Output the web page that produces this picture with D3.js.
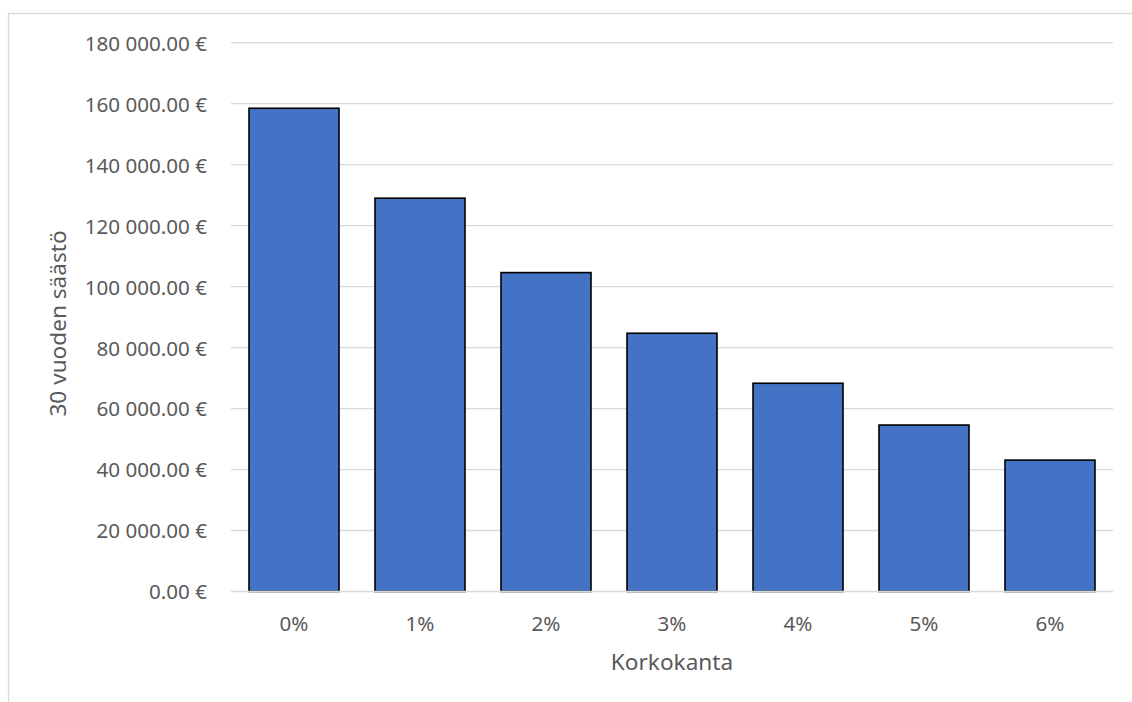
<!DOCTYPE html>
<html>
<head>
<meta charset="utf-8">
<script src="https://cdn.jsdelivr.net/npm/d3@7"></script>
<style>
  html, body { margin: 0; padding: 0; background: #ffffff; }
  svg { display: block; }
  text { font-family: "Noto Sans", "Open Sans", sans-serif; fill: #595959; }
</style>
</head>
<body>
<svg id="chart" width="1132" height="702"></svg>
<script>
// Interest rates and the 30-year savings at each rate
const rates = ["0%", "1%", "2%", "3%", "4%", "5%", "6%"];
const savings = [158500, 129000, 104600, 84700, 68300, 54600, 43100];
const yTicks = [0, 20000, 40000, 60000, 80000, 100000, 120000, 140000, 160000, 180000];
const yMax = 180000;
const xTitle = "Korkokanta";
const yTitle = "30 vuoden säästö";

const svg = d3.select("#chart");
const plot = { left: 231, right: 1113, top: 42.7, bottom: 591.5 };

// Euro formatting with space as thousands separator
const euro = d3.formatLocale({
  decimal: ".", thousands: " ", grouping: [3], currency: ["", " €"]
}).format("$,.2f");

const x = d3.scaleBand()
  .domain(rates)
  .range([plot.left, plot.right])
  .paddingInner(0.4 / 1.4)
  .paddingOuter(0.2 / 1.4);

const y = d3.scaleLinear()
  .domain([0, yMax])
  .range([plot.bottom, plot.top]);

// Chart area frame
svg.append("rect")
  .attr("x", 8.5).attr("y", 13.5)
  .attr("width", 1200).attr("height", 800)
  .attr("fill", "none")
  .attr("stroke", "#d9d9d9")
  .attr("stroke-width", 1.3);

// Horizontal gridlines
svg.append("g")
  .selectAll("line")
  .data(yTicks.filter(d => d > 0))
  .join("line")
  .attr("x1", plot.left).attr("x2", plot.right)
  .attr("y1", d => y(d)).attr("y2", d => y(d))
  .attr("stroke", "#d9d9d9")
  .attr("stroke-width", 1.3);

// Bars
svg.append("g")
  .selectAll("rect")
  .data(rates.map((r, i) => ({ r, v: savings[i] })))
  .join("rect")
  .attr("x", d => x(d.r))
  .attr("y", d => y(d.v))
  .attr("width", x.bandwidth())
  .attr("height", d => y(0) - y(d.v))
  .attr("fill", "#4472c4")
  .attr("stroke", "#000000")
  .attr("stroke-width", 1.6);

// Category axis line
svg.append("line")
  .attr("x1", plot.left).attr("x2", plot.right)
  .attr("y1", y(0)).attr("y2", y(0))
  .attr("stroke", "#d9d9d9")
  .attr("stroke-width", 1.3);

// Value axis labels
const yAxis = d3.axisLeft(y).tickValues(yTicks).tickFormat(euro).tickSize(0).tickPadding(0);
const gy = svg.append("g")
  .attr("transform", `translate(${plot.left - 24},0)`)
  .call(yAxis);
gy.select(".domain").remove();
gy.selectAll("text")
  .attr("font-family", null)
  .style("font-size", "20.6px")
  .attr("dy", "0.36em");

// Category axis labels
const xAxis = d3.axisBottom(x).tickSize(0).tickPadding(0);
const gx = svg.append("g")
  .attr("transform", `translate(0,${plot.bottom})`)
  .call(xAxis);
gx.select(".domain").remove();
gx.selectAll("text")
  .attr("font-family", null)
  .style("font-size", "20.6px")
  .attr("y", 0)
  .attr("dy", 39);

// Axis titles
svg.append("text")
  .attr("x", (plot.left + plot.right) / 2)
  .attr("y", 670)
  .attr("text-anchor", "middle")
  .style("font-size", "22.6px")
  .text(xTitle);

svg.append("text")
  .attr("transform", "translate(66,323.5) rotate(-90)")
  .attr("text-anchor", "middle")
  .style("font-size", "22.6px")
  .text(yTitle);
</script>
</body>
</html>
